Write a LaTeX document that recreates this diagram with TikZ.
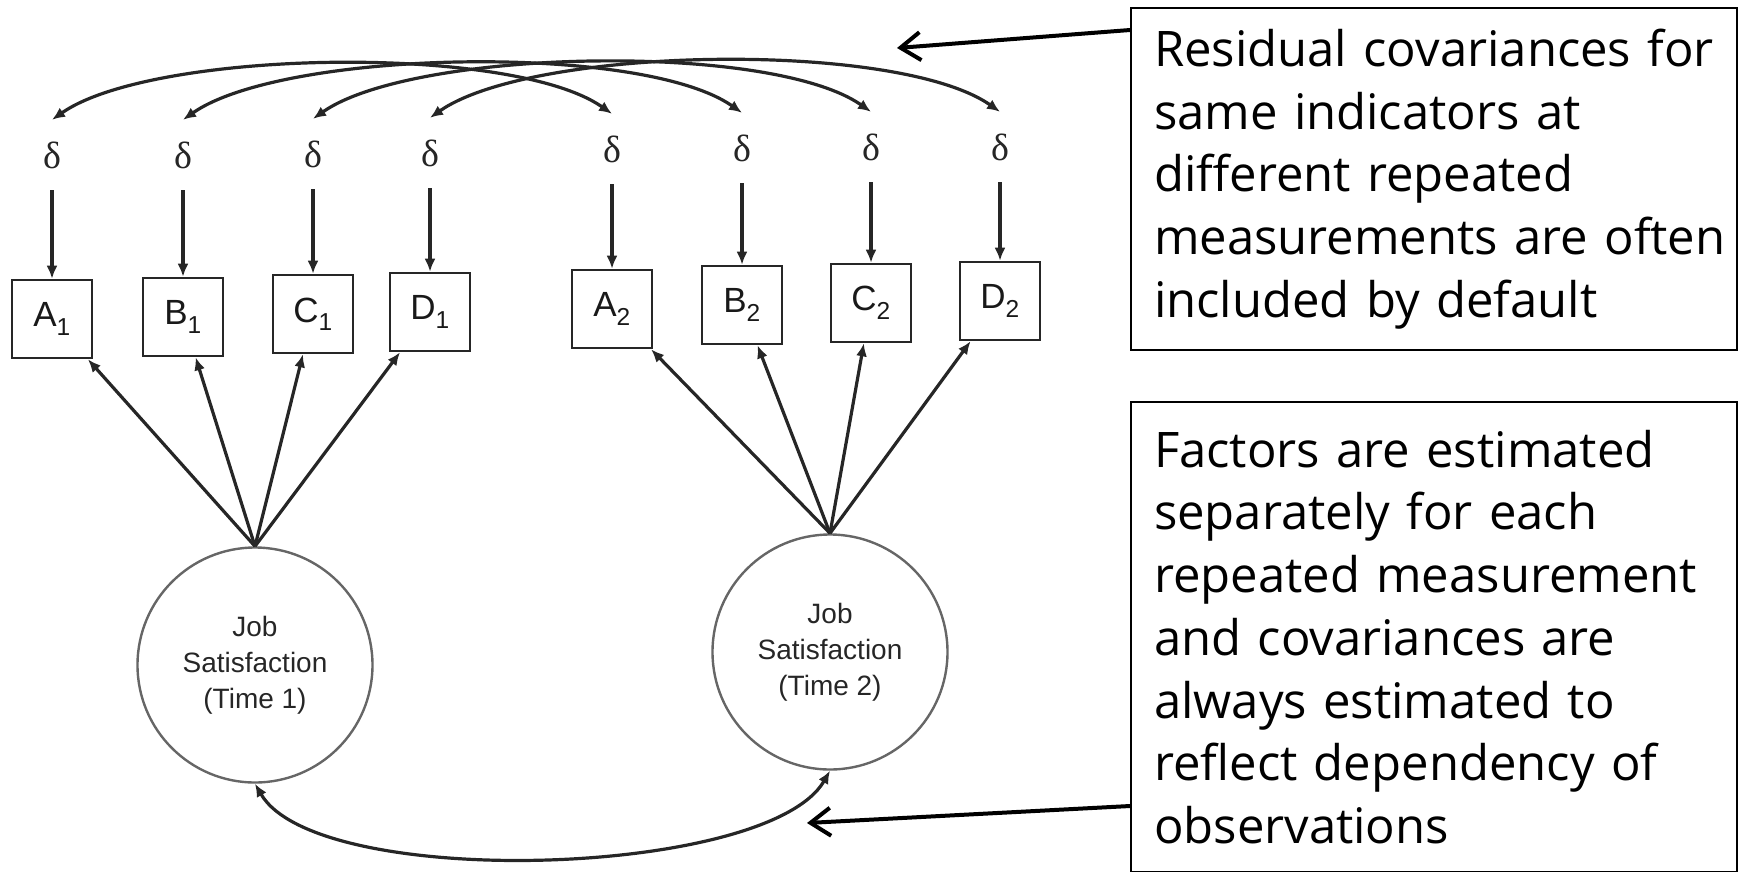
\documentclass[tikz,border=0pt]{standalone}
\usepackage{fontspec}
\setmainfont{Open Sans}
\newfontfamily\semfont{Liberation Sans}
\newfontfamily\grkfont{Liberation Serif}
\usetikzlibrary{arrows.meta}
\tikzset{
	ind/.style={draw=black!85,line width=2.6pt,minimum width=80pt,minimum height=78pt,inner sep=0pt,text=black!90,font=\semfont\fontsize{35}{35}\selectfont},
	err/.style={minimum height=70pt,inner sep=0pt,text=black!85,font=\grkfont\fontsize{38}{38}\selectfont},
	fac/.style={circle,draw=black!60,line width=2.4pt,minimum size=235pt,align=center,text=black!85,font=\semfont\fontsize{28}{36}\selectfont},
	reg/.style={draw=black!85,line width=3.2pt,-{Latex[length=13pt,width=11pt]}},
	cov/.style={draw=black!85,line width=3.2pt,{Latex[length=13pt,width=11pt]}-{Latex[length=13pt,width=11pt]}},
	note/.style={draw,line width=2pt,anchor=north west,align=left,text width=560pt,inner xsep=23pt,
		font=\fontsize{49}{62.7}\selectfont,execute at begin node={\hyphenpenalty=10000\hbadness=10000\hfuzz=40pt}},
	callout/.style={line width=4pt,-{Straight Barb[length=20pt,width=28pt]}}
}
\begin{document}
\begin{tikzpicture}[x=1pt,y=1pt]
	\useasboundingbox (0,0) rectangle (1739,-871);
	\node[fac] (js1) at (255,-665) {Job\\Satisfaction\\(Time 1)};
	\node[fac] (js2) at (830,-652) {Job\\Satisfaction\\(Time 2)};
	\foreach \l/\s/\x/\y/\d in {A/1/52/319/155,B/1/183/317/155,C/1/313/314/154,D/1/430/312/153,
			A/2/612/309/149,B/2/742/305/148,C/2/871/303/147,D/2/1000/301/147}{
		\node[ind] (\l\s) at (\x,-\y) {\l\textsubscript{\s}};
		\node[err] (e\l\s) at (\x,-\d) {δ};
		\draw[reg] (e\l\s) -- (\l\s);
		\draw[reg] (js\s.north) -- (\l\s);
	}
	\foreach \l in {A,B,C,D}
		\draw[cov] (e\l1.north) to[out=35,in=145,looseness=0.56] (e\l2.north);
	\draw[cov] (js1.south) to[out=-60,in=-120,looseness=0.55] (js2.south);
	\node[note,minimum height=342pt] (n1) at (1130,-7) {Residual~covariances~for\\same~indicators~at\\different~repeated\\measurements~are~often\\included~by~default};
	\node[note,minimum height=470pt] (n2) at (1130,-401) {Factors~are~estimated\\separately~for~each\\repeated~measurement\\and~covariances~are\\always~estimated~to\\reflect~dependency~of\\observations};
	\coordinate (t1) at (897,-48);
	\coordinate (t2) at (807,-823);
	\draw[callout] ([yshift=-23pt]n1.north west) -- (t1);
	\draw[callout] ([yshift=-405pt]n2.north west) -- (t2);
\end{tikzpicture}
\end{document}
